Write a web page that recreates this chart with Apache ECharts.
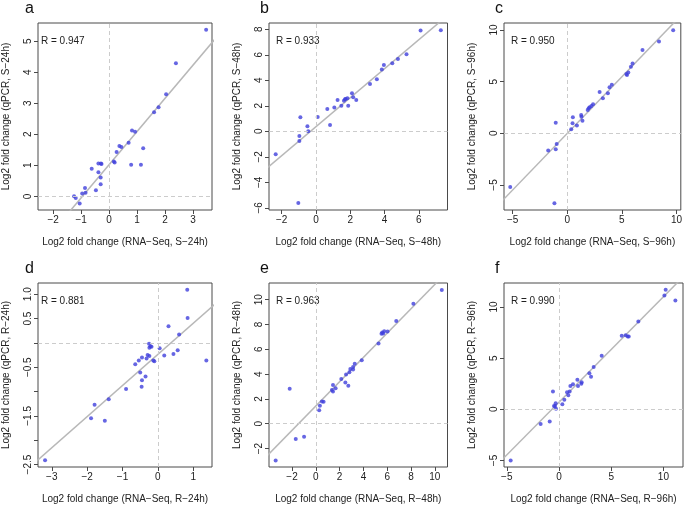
<!DOCTYPE html>
<html><head><meta charset="utf-8">
<script src="https://cdn.jsdelivr.net/npm/echarts@6/dist/echarts.min.js"></script>
<style>html,body{margin:0;padding:0;background:#fff}#c{width:685px;height:505px}</style>
</head><body><div id="c"></div>
<script>
// ---- data (Log2 fold change: RNA-Seq x, qPCR y) ----
const panelLetters = ['a','b','c','d','e','f'];
const conditions = ['S\u221224h','S\u221248h','S\u221296h','R\u221224h','R\u221248h','R\u221296h'];
const rValues = ['0.947','0.933','0.950','0.881','0.963','0.990'];

const aX = [3.47,2.39,2.04,1.77,1.61,0.82,0.93,0.70,0.37,0.44,1.22,0.27,0.17,0.20,0.79,1.14,-0.38,-0.29,-0.27,-0.62,-0.38,-0.30,-0.30,-0.47,-0.86,-0.96,-0.84,-1.25,-1.19,-1.05];
const aY = [5.37,4.29,3.29,2.87,2.71,2.12,2.08,1.73,1.62,1.59,1.55,1.43,1.12,1.09,1.02,1.02,1.06,1.06,1.04,0.89,0.78,0.61,0.39,0.20,0.27,0.09,0.12,0.00,-0.05,-0.23];

const bX = [6.10,7.28,5.28,4.78,4.45,3.96,3.84,3.55,3.15,2.10,2.17,1.26,2.35,1.83,1.73,1.63,1.69,1.48,1.88,0.66,1.07,0.10,-0.91,0.82,-0.50,-0.45,-0.97,-0.97,-2.35,-1.03];
const bY = [7.90,7.92,6.04,5.67,5.33,5.20,4.84,4.08,3.71,2.98,2.67,2.46,2.46,2.59,2.54,2.40,2.51,2.01,2.01,1.75,1.86,1.12,1.10,0.50,0.39,0.00,-0.37,-0.76,-1.80,-5.62];

const cX = [9.70,8.40,6.89,5.98,5.83,5.59,5.41,5.47,4.08,3.87,2.96,3.72,3.26,2.36,2.21,2.05,1.96,1.87,1.27,1.30,1.39,0.51,0.48,0.88,0.36,-1.06,-0.97,-1.06,-1.75,-5.23,-1.18];
const cY = [9.97,8.90,8.06,6.77,6.45,5.90,5.74,5.65,4.71,4.45,4.00,3.87,3.39,2.81,2.65,2.52,2.42,2.26,1.77,1.61,1.23,1.55,0.97,0.77,0.39,1.03,-1.03,-1.55,-1.65,-5.19,-6.77];

const dX = [0.83,0.84,0.30,0.60,-0.25,-0.21,-0.24,-0.18,0.05,0.56,0.18,0.44,-0.29,-0.24,-0.32,-0.45,-0.54,-0.13,-0.10,1.37,-0.64,-0.50,-0.35,-0.45,-0.46,-0.90,-1.39,-1.79,-1.89,-1.50,-3.19];
const dY = [1.09,0.51,0.34,0.17,-0.02,-0.07,-0.10,-0.08,-0.11,-0.15,-0.26,-0.23,-0.25,-0.27,-0.32,-0.30,-0.36,-0.36,-0.38,-0.36,-0.44,-0.61,-0.69,-0.77,-0.90,-0.95,-1.16,-1.27,-1.55,-1.60,-2.41];

const eX = [10.59,8.20,6.76,6.03,5.75,5.58,5.52,5.66,5.27,3.86,3.27,3.13,3.13,2.90,2.82,2.54,2.14,2.48,2.73,1.44,1.66,1.35,1.44,0.51,0.65,0.34,0.28,-2.20,-1.69,-0.99,-3.38];
const eY = [10.79,9.68,8.28,7.43,7.46,7.35,7.25,7.28,6.48,5.11,4.84,4.58,4.37,4.42,4.15,3.97,3.60,3.33,3.07,3.12,2.86,2.72,2.59,1.80,1.77,1.46,1.08,2.83,-1.24,-1.06,-2.96];

const fX = [10.22,10.10,11.15,7.60,6.01,6.39,6.58,6.68,4.09,3.32,2.91,3.07,2.17,2.14,1.76,1.82,1.34,1.09,1.02,0.89,0.77,0.51,0.32,-0.58,-0.32,-0.38,-0.48,-0.29,-1.76,-0.89,-4.63];
const fY = [11.67,11.12,10.64,8.59,7.18,7.24,7.12,7.12,5.22,4.13,3.53,3.17,2.63,2.50,2.88,2.28,2.44,2.28,1.73,1.38,1.67,0.93,0.48,1.73,0.58,0.32,0.32,0.06,-1.44,-1.19,-5.00];

// fitted line: [slope, intercept]
const fitA = [1.07, 1.02];
const fitB = [1.137, 0.36];
const fitC = [1.095, 0.0];
const fitD = [0.64, -0.236];
const fitE = [0.98, 1.43];
const fitF = [1.03, 0.69];

// tick values
const xTicksA = [-2,-1,0,1,2,3],      yTicksA = [0,1,2,3,4,5];
const xTicksB = [-2,0,2,4,6],         yTicksB = [-6,-4,-2,0,2,4,6,8];
const xTicksC = [-5,0,5,10],          yTicksC = [-5,0,5,10];
const xTicksD = [-3,-2,-1,0,1],       yTicksD = [-2.5,-2,-1.5,-1,-0.5,0,0.5,1];
const yLabelsD = [-2.5,-1.5,-0.5,0.5,1];
const xTicksE = [-2,0,2,4,6,8,10],    yTicksE = [-2,0,2,4,6,8,10];
const xTicksF = [-5,0,5,10],          yTicksF = [-5,0,5,10];

// ---- layout ----
const FONT = 'Liberation Sans, Arial, Helvetica, sans-serif';
const panels = [
  {x:aX,y:aY,fit:fitA,xt:xTicksA,yt:yTicksA,yl:yTicksA,dec:0,grid:{left:34,top:23,width:178,height:187},xr:[-2.54,3.68],yr:[-0.44,5.59]},
  {x:bX,y:bY,fit:fitB,xt:xTicksB,yt:yTicksB,yl:yTicksB,dec:0,grid:{left:269,top:23,width:178.5,height:187},xr:[-2.74,7.67],yr:[-6.17,8.49]},
  {x:cX,y:cY,fit:fitC,xt:xTicksC,yt:yTicksC,yl:yTicksC,dec:0,grid:{left:504,top:23,width:179,height:187},xr:[-5.8,10.4],yr:[-7.42,10.68]},
  {x:dX,y:dY,fit:fitD,xt:xTicksD,yt:yTicksD,yl:yLabelsD,dec:1,grid:{left:34,top:283,width:178,height:187},xr:[-3.39,1.53],yr:[-2.55,1.23]},
  {x:eX,y:eY,fit:fitE,xt:xTicksE,yt:yTicksE,yl:yTicksE,dec:0,grid:{left:269,top:283,width:178.5,height:187},xr:[-3.94,11.07],yr:[-3.49,11.35]},
  {x:fX,y:fY,fit:fitF,xt:xTicksF,yt:yTicksF,yl:yTicksF,dec:0,grid:{left:504,top:283,width:179,height:187},xr:[-5.27,11.88],yr:[-5.64,12.34]}
];

const fmt = (dec) => (v) => {
  const s = dec ? Number(v).toFixed(dec) : String(Math.round(v));
  return s.replace('-', '\u2212');
};

const grids = [], xAxes = [], yAxes = [], series = [], graphics = [];
panels.forEach((p, i) => {
  grids.push(Object.assign({show:true, borderColor:'#4a4a4a', borderWidth:1, containLabel:false}, p.grid));
  const common = {
    gridIndex:i, type:'value',
    axisLine:{show:false, onZero:false},
    splitLine:{show:false},
    axisTick:{show:true, inside:false, length:4, lineStyle:{color:'#4a4a4a'}},
    nameLocation:'middle', nameGap:27,
    nameTextStyle:{fontFamily:FONT, fontSize:10, color:'#222'}
  };
  xAxes.push(Object.assign({}, common, {
    position:'bottom',
    min:p.xr[0], max:p.xr[1],
    name:'Log2 fold change (RNA\u2212Seq, ' + conditions[i] + ')',
    axisTick:Object.assign({}, common.axisTick, {customValues:p.xt}),
    axisLabel:{customValues:p.xt, formatter:fmt(0), fontFamily:FONT, fontSize:10, color:'#222', margin:5}
  }));
  yAxes.push(Object.assign({}, common, {
    position:'left',
    min:p.yr[0], max:p.yr[1],
    name:'Log2 fold change (qPCR, ' + conditions[i] + ')',
    axisTick:Object.assign({}, common.axisTick, {customValues:p.yt}),
    axisLabel:{customValues:p.yl, formatter:fmt(p.dec), rotate:90, fontFamily:FONT, fontSize:10, color:'#222', margin:5}
  }));
  const pts = p.x.map((v, k) => [v, p.y[k]]);
  const fitLine = [p.xr[0] - 1, p.xr[1] + 1].map(v => [v, p.fit[0] * v + p.fit[1]]);
  series.push({
    type:'line', xAxisIndex:i, yAxisIndex:i, data:fitLine, symbol:'none', silent:true, clip:true,
    lineStyle:{color:'#b8b8b8', width:1.5}, z:2,
    markLine:{silent:true, symbol:['none','none'], label:{show:false},
      lineStyle:{color:'#cccccc', type:[4,3], width:1},
      data:[{xAxis:0},{yAxis:0}]}
  });
  series.push({
    type:'scatter', xAxisIndex:i, yAxisIndex:i, data:pts, symbolSize:4,
    itemStyle:{color:'#4040dc'}, z:3, silent:true
  });
  graphics.push({type:'text', left:p.grid.left + 7, top:p.grid.top + 13,
    style:{text:'R = ' + rValues[i], font:'10px ' + FONT, fill:'#222'}});
  graphics.push({type:'text', left:p.grid.left - 9, top:p.grid.top - 22,
    style:{text:panelLetters[i], font:'16px ' + FONT, fill:'#111'}});
});

const chart = echarts.init(document.getElementById('c'), null, {renderer:'canvas'});
chart.setOption({
  animation:false,
  grid:grids, xAxis:xAxes, yAxis:yAxes, series:series, graphic:graphics
});
</script></body></html>
